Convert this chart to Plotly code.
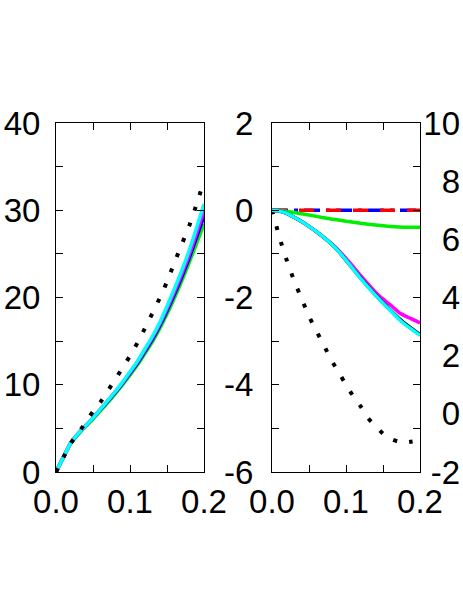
import plotly.graph_objects as go

# ---------------- data ----------------
# Panel 1 (y: 0..40)
p1_x = [0, 0.01, 0.02, 0.03, 0.04, 0.05, 0.06, 0.07, 0.08, 0.09, 0.10,
        0.11, 0.12, 0.13, 0.14, 0.15, 0.16, 0.17, 0.18, 0.19, 0.20]
p1_cyan = [0, 1.7, 3.35, 4.4, 5.3, 6.2, 7.2, 8.2, 9.2, 10.3, 11.5,
           12.7, 14.1, 15.5, 17.1, 19.0, 21.0, 23.1, 25.4, 28.0, 30.7]
p1_magenta = [0, 1.7, 3.35, 4.4, 5.3, 6.2, 7.2, 8.2, 9.2, 10.25, 11.4,
              12.6, 13.95, 15.35, 16.9, 18.7, 20.65, 22.7, 24.9, 27.4, 30.0]
p1_blue = [0, 1.7, 3.35, 4.4, 5.3, 6.2, 7.15, 8.1, 9.1, 10.15, 11.3,
           12.45, 13.8, 15.15, 16.7, 18.45, 20.35, 22.35, 24.5, 26.9, 29.3]
p1_green = [0, 1.7, 3.3, 4.3, 5.2, 6.05, 7.0, 7.95, 8.95, 10.0, 11.1,
            12.25, 13.55, 14.9, 16.4, 18.1, 19.95, 21.9, 24.0, 26.2, 28.4]
p1_dot_x = [0, 0.01, 0.02, 0.03, 0.04, 0.05, 0.06, 0.07, 0.08, 0.09, 0.10,
            0.11, 0.12, 0.13, 0.14, 0.15, 0.16, 0.17, 0.18, 0.19, 0.196]
p1_dot = [0, 1.65, 3.3, 4.45, 5.65, 6.95, 8.0, 9.3, 10.6, 11.95, 13.3,
          14.8, 16.45, 18.15, 19.9, 21.8, 24.0, 26.1, 28.2, 30.7, 32.3]

# Panel 2 (y: -6..2)
p2_x = [0, 0.01, 0.02, 0.036, 0.05, 0.063, 0.08, 0.094, 0.106, 0.119,
        0.133, 0.146, 0.16, 0.173, 0.187, 0.20]
p2_cyan = [0, -0.02, -0.07, -0.22, -0.37, -0.53, -0.77, -1.02, -1.27, -1.55,
           -1.82, -2.06, -2.3, -2.52, -2.71, -2.87]
p2_black = [0, -0.02, -0.07, -0.22, -0.37, -0.53, -0.77, -1.02, -1.27, -1.54,
            -1.81, -2.05, -2.29, -2.5, -2.69, -2.85]
p2_magenta = [0, -0.02, -0.07, -0.22, -0.37, -0.53, -0.76, -0.99, -1.22, -1.48,
              -1.75, -1.98, -2.17, -2.36, -2.48, -2.58]
p2_green_x = [0, 0.02, 0.04, 0.06, 0.08, 0.10, 0.12, 0.14, 0.16, 0.18, 0.20]
p2_green = [0, -0.03, -0.08, -0.14, -0.2, -0.25, -0.3, -0.34, -0.37, -0.39, -0.39]
p2_flat_x = [0, 0.2]
p2_red = [0, 0]
p2_blue = [0, 0]
p2_dot_x = [0, 0.005, 0.01, 0.02, 0.03, 0.04, 0.05, 0.06, 0.07, 0.08, 0.09,
            0.10, 0.11, 0.12, 0.13, 0.14, 0.15, 0.16, 0.17, 0.18, 0.19]
p2_dot = [0, -0.3, -0.62, -1.15, -1.62, -2.03, -2.43, -2.77, -3.09, -3.43, -3.71,
          -4.0, -4.27, -4.5, -4.77, -4.95, -5.12, -5.24, -5.3, -5.32, -5.3]

# ticks
x_tickvals = [0, 0.05, 0.1, 0.15, 0.2]
x_ticktext = ["0.0", "", "0.1", "", "0.2"]
y1_tickvals = [0, 5, 10, 15, 20, 25, 30, 35, 40]
y1_ticktext = ["0", "", "10", "", "20", "", "30", "", "40"]
y2_tickvals = [-6, -5, -4, -3, -2, -1, 0, 1, 2]
y2_ticktext = ["-6", "", "-4", "", "-2", "", "0", "", "2"]
# third panel (only its tick labels fall inside the picture)
y3_tickvals = [-2, 0, 2, 4, 6, 8, 10]
y3_ticktext = ["-2", "0", "2", "4", "6", "8", "10"]

# ---------------- figure ----------------
W, H = 463, 599
fig = go.Figure()

DOT = "4px,12.5px"
LW = 3.5

def add(x, y, color, xa, ya, dash="solid", width=LW):
    fig.add_trace(go.Scatter(x=x, y=y, mode="lines", xaxis=xa, yaxis=ya,
                             line=dict(color=color, width=width, dash=dash,
                                       shape="spline", smoothing=0.5),
                             showlegend=False, hoverinfo="skip"))

# panel 1
add(p1_x, p1_green, "#00ee00", "x", "y")
add(p1_x, p1_blue, "#0000ff", "x", "y")
add(p1_x, p1_magenta, "#ff00ff", "x", "y")
add(p1_x, p1_cyan, "#00ffff", "x", "y")
add(p1_dot_x, p1_dot, "black", "x", "y", dash=DOT, width=4)

# panel 2
add(p2_dot_x, p2_dot, "black", "x2", "y2", dash=DOT, width=4)
add(p2_flat_x, p2_blue, "#0000ff", "x2", "y2", dash="16px,6px,4px,6px")
add(p2_flat_x, p2_red, "#ff0000", "x2", "y2", dash="15px,12px")
add(p2_green_x, p2_green, "#00ee00", "x2", "y2")
add(p2_x, p2_magenta, "#ff00ff", "x2", "y2")
add(p2_x, p2_black, "black", "x2", "y2")
add(p2_x, p2_cyan, "#00ffff", "x2", "y2")

# empty trace so the (mostly off-picture) third panel's axis gets drawn
fig.add_trace(go.Scatter(x=[], y=[], xaxis="x2", yaxis="y3", mode="lines",
                         showlegend=False, hoverinfo="skip"))

FONT = dict(family="Liberation Sans, Arial, sans-serif", size=33, color="black")

def xaxis(domain, anchor):
    return dict(domain=domain, anchor=anchor, range=[0, 0.2],
                tickmode="array", tickvals=x_tickvals, ticktext=x_ticktext,
                ticks="inside", ticklen=7, tickwidth=1, tickcolor="black",
                showline=True, linecolor="black", linewidth=1, mirror="ticks",
                showgrid=False, zeroline=False, tickfont=FONT,
                automargin=False, fixedrange=True)

def yaxis(domain, anchor, rng, tv, tt, standoff):
    return dict(domain=domain, anchor=anchor, range=rng,
                tickmode="array", tickvals=tv, ticktext=tt,
                ticks="inside", ticklen=7, tickwidth=1, tickcolor="black",
                showline=True, linecolor="black", linewidth=1, mirror="ticks",
                showgrid=False, zeroline=False, tickfont=FONT,
                ticklabelstandoff=standoff, automargin=False, fixedrange=True)

ydom = [(H - 472) / H, (H - 123) / H]
fig.update_layout(
    width=W, height=H, autosize=False,
    margin=dict(l=0, r=0, t=0, b=0, pad=0),
    paper_bgcolor="white", plot_bgcolor="white",
    showlegend=False,
    xaxis=xaxis([56 / W, 204 / W], "y"),
    yaxis=yaxis(ydom, "x", [0, 40], y1_tickvals, y1_ticktext, 8),
    xaxis2=xaxis([272 / W, 420 / W], "y2"),
    yaxis2=yaxis(ydom, "x2", [-6, 2], y2_tickvals, y2_ticktext, 11),
    yaxis3=dict(anchor="free", position=1.0, overlaying="y2",
                side="left", range=[-2, 10], tickmode="array",
                tickvals=y3_tickvals, ticktext=y3_ticktext, ticks="",
                showline=False, showgrid=False, zeroline=False,
                tickfont=FONT, ticklabelstandoff=3, automargin=False,
                fixedrange=True),
)

fig.write_html("out.html",
               config={"displayModeBar": False, "staticPlot": True},
               post_script="document.body.style.margin='0';"
                           "document.body.style.overflow='hidden';")
